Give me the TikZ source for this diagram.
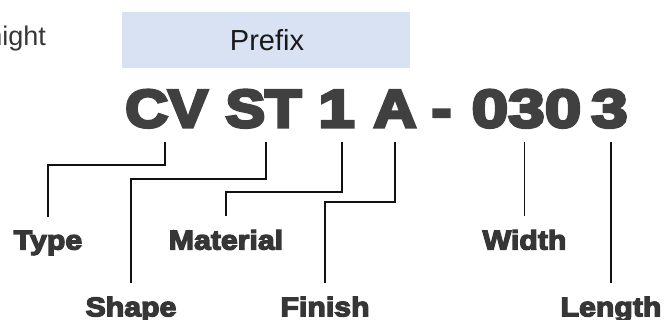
\documentclass[tikz,border=0pt]{standalone}
\usepackage{fontspec}
\setmainfont{Liberation Sans}
\newfontfamily\heavyfont{Liberation Sans}[BoldFeatures={FakeBold=6}, FakeStretch=1.12]
\newfontfamily\heavydigits{Liberation Sans}[BoldFeatures={FakeBold=6}, FakeStretch=1.24]
\newfontfamily\labelfont{Liberation Sans}[BoldFeatures={FakeBold=5}, FakeStretch=1.12]
\definecolor{bigtxt}{HTML}{404040}
\definecolor{lbltxt}{HTML}{363636}
\definecolor{boxfill}{HTML}{D9E2F3}
\definecolor{linecol}{HTML}{111111}
\begin{document}
\begin{tikzpicture}[x=1pt,y=-1pt,
  bigtext/.style={font=\heavyfont\bfseries\fontsize{53}{60}\selectfont, text=bigtxt,
    anchor=base, inner sep=0pt, outer ysep=15pt, text depth=0pt},
  bigdigits/.style={bigtext, font=\heavydigits\bfseries\fontsize{53}{60}\selectfont},
  lbl/.style={font=\labelfont\bfseries\fontsize{27}{30}\selectfont, text=lbltxt,
    anchor=base, inner sep=0pt, outer ysep=14pt, text depth=0pt},
  plain/.style={font=\fontsize{27}{30}\selectfont, inner sep=0pt},
  leader/.style={draw=linecol, line width=1.8pt}]
\useasboundingbox (0,0) rectangle (666,320);
% clipped word at the left border
\begin{scope}
  \clip (0,0) rectangle (666,320);
  \node[plain, anchor=base east, text=lbltxt] (cut) at (46,46) {hight};
\end{scope}
% prefix band
\node[fill=boxfill, minimum width=288pt, minimum height=56pt, inner sep=0pt] (prefixbox) at (266,40) {};
\node[plain, font=\fontsize{29}{32}\selectfont, anchor=base, text=black!90] (prefix) at (267,51) {Prefix};
% code parts
\node[bigtext] (cv) at (166.5,127) {CV};
\node[bigtext] (st) at (263.5,127) {ST};
\node[bigdigits] (one) at (336.5,127) {1};
\node[bigtext] (a) at (395,127) {A};
\node[bigtext] (dash) at (441.5,127) {-};
\node[bigdigits] (num) at (526.5,127) {030};
\node[bigdigits] (len) at (609.5,127) {3};
% labels
\node[lbl] (type) at (48,249.5) {Type};
\node[lbl] (material) at (226,249.5) {Material};
\node[lbl] (width) at (524.5,249.5) {Width};
\node[lbl] (shape) at (131,316.3) {Shape};
\node[lbl] (finish) at (325,316.3) {Finish};
\node[lbl] (length) at (611,316.3) {Length};
% leaders
\draw[leader] ([xshift=-1.5pt]cv.south) -- ++(0,23) -| (type);
\draw[leader] ([xshift=2.2pt]st.south) -- ++(0,37) -| (shape);
\draw[leader] ([xshift=5.2pt]one.south) -- ++(0,50) -| (material);
\draw[leader] (a.south) -- ++(0,60) -| (finish);
\draw[leader] (num.south -| width.north) -- (width.north);
\draw[leader] (len.south -| length.north) -- (length.north);
\end{tikzpicture}
\end{document}
